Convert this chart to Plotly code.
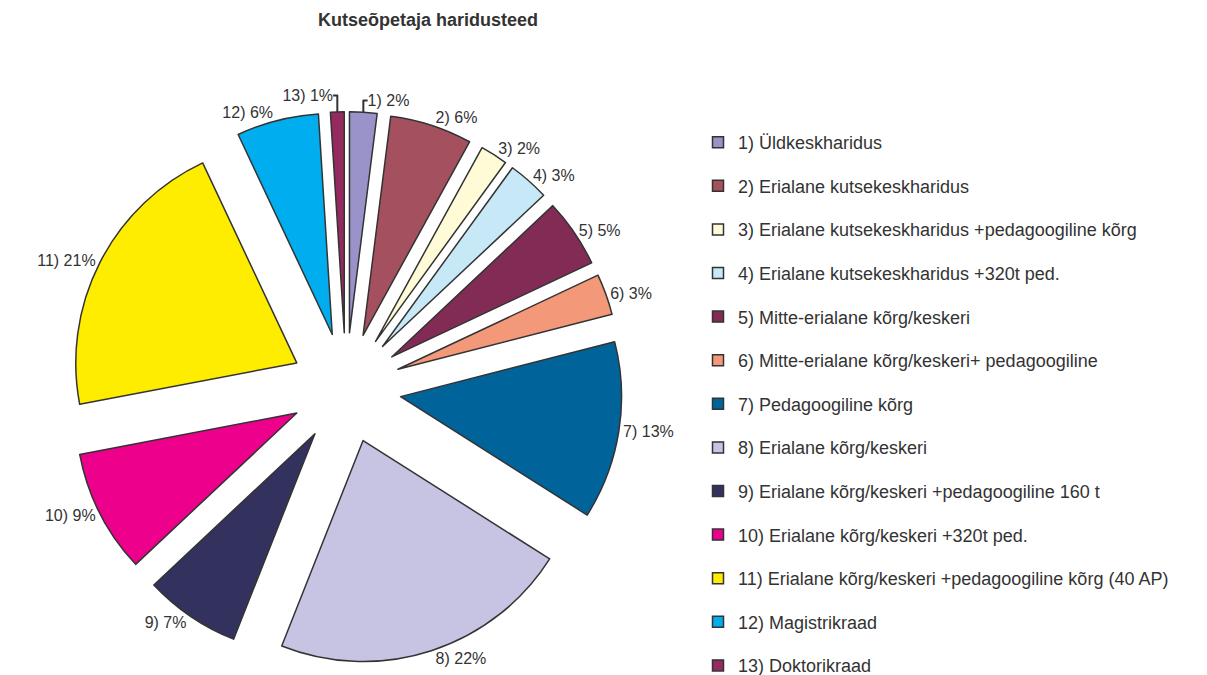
import plotly.graph_objects as go

title = "Kutseõpetaja haridusteed"
numbers = ["1", "2", "3", "4", "5", "6", "7", "8", "9", "10", "11", "12", "13"]
names = [
    "1) Üldkeskharidus",
    "2) Erialane kutsekeskharidus",
    "3) Erialane kutsekeskharidus +pedagoogiline kõrg",
    "4) Erialane kutsekeskharidus +320t ped.",
    "5) Mitte-erialane kõrg/keskeri",
    "6) Mitte-erialane kõrg/keskeri+ pedagoogiline",
    "7) Pedagoogiline kõrg",
    "8) Erialane kõrg/keskeri",
    "9) Erialane kõrg/keskeri +pedagoogiline 160 t",
    "10) Erialane kõrg/keskeri +320t ped.",
    "11) Erialane kõrg/keskeri +pedagoogiline kõrg (40 AP)",
    "12) Magistrikraad",
    "13) Doktorikraad",
]
values = [2, 6, 2, 3, 5, 3, 13, 22, 7, 9, 21, 6, 1]
colors = [
    "#9993C9", "#A5505F", "#FFFBD6", "#C6E8F7", "#822C55", "#F4987A",
    "#00649A", "#C7C3E3", "#33325F", "#EC008C", "#FFED00", "#00AEEF", "#952A5E",
]

FONT = "Liberation Sans, Arial, sans-serif"
W, H = 1199, 667  # page body has an 8px margin

fig = go.Figure()
fig.add_trace(go.Pie(
    labels=names,
    values=values,
    customdata=numbers,
    texttemplate="%{customdata}) %{value}%",
    textposition="outside",
    textfont=dict(family=FONT, size=16, color="#333333"),
    marker=dict(colors=colors, line=dict(color="#333333", width=1.5)),
    pull=[0.25] * len(values),
    sort=False,
    direction="clockwise",
    rotation=0,
    showlegend=False,
    hoverinfo="label+percent",
    domain=dict(x=[0.0515, 0.5123], y=[0.0161, 0.8445]),
))

for i, (nm, col) in enumerate(zip(names, colors)):
    fig.add_trace(go.Scatter(
        x=[None], y=[None], mode="markers", name=nm,
        legendgroup=f"g{i}",
        marker=dict(symbol="square", size=11, color=col, line=dict(color="#333333", width=1.5)),
        hoverinfo="skip",
    ))

fig.update_layout(
    width=W, height=H,
    margin=dict(l=0, r=0, t=0, b=0, pad=0, autoexpand=False),
    paper_bgcolor="white", plot_bgcolor="white",
    font=dict(family=FONT, color="#333333"),
    title=dict(text="<b>" + title + "</b>", x=420 / W, xanchor="center",
               y=1 - 12 / H, yanchor="middle", xref="paper", yref="paper",
               font=dict(size=18, color="#333333")),
    xaxis=dict(visible=False),
    yaxis=dict(visible=False),
    legend=dict(
        x=690 / W, xanchor="left", y=1 - 116 / H, yanchor="top",
        font=dict(size=18, color="#333333"),
        tracegroupgap=17.2, itemwidth=30, maxheight=1.0,
        bgcolor="rgba(0,0,0,0)",
    ),
)

fig.write_html("out.html")
